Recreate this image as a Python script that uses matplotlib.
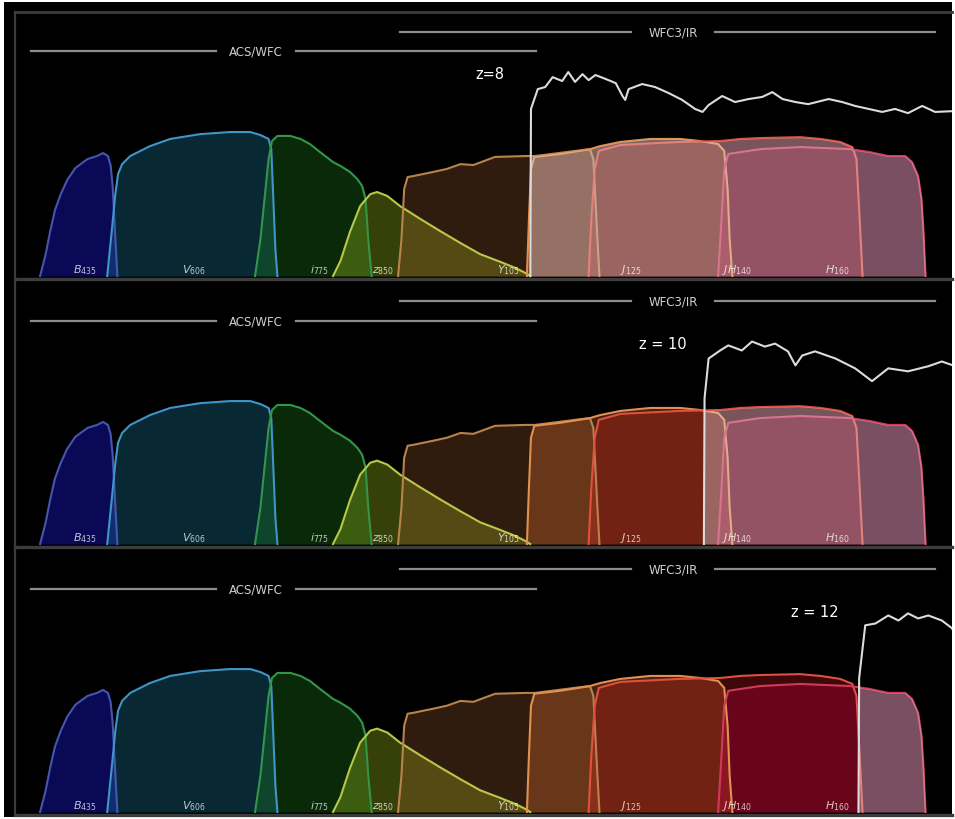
import numpy as np
import matplotlib.pyplot as plt
from matplotlib.patches import Rectangle

# filter curves: wavelength [micron] and throughput
b435_lam = [0.370, 0.378, 0.385, 0.392, 0.400, 0.410, 0.422, 0.440, 0.454, 0.463, 0.470, 0.474, 0.477, 0.480, 0.484]
b435_thr = [0.0, 0.07, 0.15, 0.22, 0.27, 0.32, 0.36, 0.39, 0.40, 0.41, 0.40, 0.37, 0.30, 0.17, 0.0]

v606_lam = [0.469, 0.476, 0.481, 0.485, 0.491, 0.503, 0.518, 0.532, 0.562, 0.606, 0.650, 0.680, 0.695, 0.707, 0.711, 0.714, 0.717, 0.720]
v606_thr = [0.0, 0.157, 0.273, 0.34, 0.373, 0.40, 0.417, 0.433, 0.457, 0.473, 0.48, 0.48, 0.47, 0.457, 0.423, 0.257, 0.09, 0.0]

i775_lam = [0.687, 0.695, 0.701, 0.707, 0.712, 0.720, 0.739, 0.754, 0.768, 0.783, 0.802, 0.813, 0.827, 0.838, 0.845, 0.850, 0.854, 0.859]
i775_thr = [0.0, 0.123, 0.257, 0.39, 0.45, 0.467, 0.467, 0.457, 0.44, 0.413, 0.38, 0.367, 0.347, 0.323, 0.30, 0.257, 0.123, 0.0]

z850_lam = [0.802, 0.813, 0.827, 0.842, 0.857, 0.867, 0.882, 0.901, 0.931, 0.960, 0.990, 1.019, 1.049, 1.071, 1.086, 1.093]
z850_thr = [0.0, 0.05, 0.147, 0.233, 0.273, 0.28, 0.267, 0.233, 0.19, 0.15, 0.11, 0.073, 0.047, 0.027, 0.01, 0.0]

y105_lam = [0.898, 0.903, 0.907, 0.912, 0.920, 0.950, 0.970, 0.990, 1.009, 1.041, 1.086, 1.100, 1.159, 1.181, 1.186, 1.189, 1.192, 1.195]
y105_thr = [0.0, 0.123, 0.29, 0.33, 0.333, 0.347, 0.357, 0.373, 0.37, 0.397, 0.40, 0.40, 0.417, 0.423, 0.39, 0.257, 0.123, 0.0]

j125_lam = [1.088, 1.091, 1.094, 1.099, 1.137, 1.181, 1.196, 1.226, 1.270, 1.314, 1.344, 1.370, 1.379, 1.384, 1.387, 1.391]
j125_thr = [0.0, 0.19, 0.357, 0.397, 0.407, 0.423, 0.433, 0.447, 0.457, 0.457, 0.45, 0.44, 0.417, 0.29, 0.123, 0.0]

jh140_lam = [1.179, 1.183, 1.188, 1.194, 1.226, 1.314, 1.373, 1.403, 1.432, 1.491, 1.521, 1.550, 1.568, 1.574, 1.578, 1.583]
jh140_thr = [0.0, 0.19, 0.357, 0.417, 0.437, 0.447, 0.45, 0.457, 0.46, 0.463, 0.457, 0.447, 0.43, 0.39, 0.223, 0.0]

h160_lam = [1.370, 1.375, 1.379, 1.385, 1.432, 1.491, 1.565, 1.594, 1.621, 1.646, 1.656, 1.665, 1.670, 1.673, 1.676]
h160_thr = [0.0, 0.19, 0.357, 0.407, 0.423, 0.43, 0.423, 0.413, 0.40, 0.40, 0.38, 0.333, 0.257, 0.147, 0.0]

# galaxy spectra at the three redshifts (same throughput scale)
spec_z8_lam = [1.093, 1.094, 1.104, 1.115, 1.126, 1.140, 1.149, 1.159, 1.170, 1.179, 1.189, 1.204, 1.219, 1.229, 1.233,
               1.238, 1.258, 1.277, 1.297, 1.317, 1.336, 1.347, 1.356, 1.376, 1.395, 1.415, 1.435, 1.450, 1.465, 1.484,
               1.503, 1.533, 1.553, 1.572, 1.592, 1.612, 1.631, 1.650, 1.671, 1.690, 1.720]
spec_z8_flux = [0.0, 0.557, 0.623, 0.63, 0.663, 0.65, 0.68, 0.647, 0.673, 0.653, 0.67, 0.657, 0.643, 0.60, 0.587,
                0.623, 0.64, 0.63, 0.61, 0.587, 0.557, 0.547, 0.57, 0.60, 0.58, 0.59, 0.597, 0.613, 0.59, 0.58,
                0.573, 0.59, 0.58, 0.567, 0.557, 0.547, 0.557, 0.543, 0.567, 0.547, 0.55]

spec_z10_lam = [1.349, 1.350, 1.356, 1.373, 1.385, 1.405, 1.420, 1.439, 1.454, 1.473, 1.484, 1.494, 1.513, 1.543,
                1.572, 1.597, 1.621, 1.650, 1.680, 1.700, 1.720]
spec_z10_flux = [0.0, 0.49, 0.623, 0.65, 0.667, 0.65, 0.68, 0.663, 0.673, 0.647, 0.60, 0.633, 0.647, 0.623,
                 0.59, 0.547, 0.59, 0.58, 0.597, 0.613, 0.597]

spec_z12_lam = [1.577, 1.578, 1.587, 1.602, 1.621, 1.636, 1.650, 1.665, 1.680, 1.700, 1.715, 1.720]
spec_z12_flux = [0.0, 0.45, 0.627, 0.633, 0.66, 0.643, 0.667, 0.65, 0.66, 0.643, 0.617, 0.593]

redshift_labels = ['z=8', 'z = 10', 'z = 12']
redshift_label_x = [1.034, 1.288, 1.513]

# name, curve, fill colour, edge colour, fill alpha, label x
acs_filters = [
    (r'$B_{435}$', b435_lam, b435_thr, '#1818e0', '#4656b0', 0.38, 0.419),
    (r'$V_{606}$', v606_lam, v606_thr, '#1a7fa0', '#3f95c8', 0.32, 0.580),
    (r'$i_{775}$', i775_lam, i775_thr, '#1f8a1f', '#33954a', 0.30, 0.768),
    (r'$z_{850}$', z850_lam, z850_thr, '#9cbc1c', '#b8c848', 0.35, 0.860),
]
wfc3_filters = [
    (r'$Y_{105}$', y105_lam, y105_thr, '#a06030', '#b8844c', 0.30, 1.044),
    (r'$J_{125}$', j125_lam, j125_thr, '#e07030', '#e09050', 0.32, 1.226),
    (r'$JH_{140}$', jh140_lam, jh140_thr, '#e02020', '#e05040', 0.28, 1.376),
    (r'$H_{160}$', h160_lam, h160_thr, '#c00040', '#d03a5a', 0.33, 1.528),
]

spectra = [(spec_z8_lam, spec_z8_flux), (spec_z10_lam, spec_z10_flux), (spec_z12_lam, spec_z12_flux)]

fig = plt.figure(figsize=(9.55, 8.2), dpi=100)
fig.patch.set_facecolor('white')
fig.patches.append(Rectangle((0.004, 0.003), 0.993, 0.993, transform=fig.transFigure,
                             facecolor='black', edgecolor='none', zorder=-10))

panel_pos = [[0.0157, 0.6585, 0.9812, 0.3256],
             [0.0157, 0.3317, 0.9812, 0.3232],
             [0.0157, 0.0049, 0.9812, 0.3232]]

grid_col = '#3c3c3c'

for k, pos in enumerate(panel_pos):
    ax = fig.add_axes(pos)
    ax.set_facecolor('black')
    ax.set_xlim(0.333, 1.715)
    ax.set_ylim(-0.01, 0.88)
    ax.set_xticks([])
    ax.set_yticks([])
    for side in ['top', 'right']:
        ax.spines[side].set_visible(False)
    if k == 0:
        ax.spines['top'].set_visible(True)
        ax.spines['top'].set_color(grid_col)
        ax.spines['top'].set_linewidth(2)
    ax.spines['left'].set_color(grid_col)
    ax.spines['left'].set_linewidth(1.6)
    ax.spines['bottom'].set_color(grid_col)
    ax.spines['bottom'].set_linewidth(2.4)

    for name, lam, thr, fc, ec, a, lx in acs_filters + wfc3_filters:
        ax.fill_between(lam, 0, thr, color=fc, alpha=a, linewidth=0, zorder=2)
    for name, lam, thr, fc, ec, a, lx in acs_filters + wfc3_filters:
        ax.plot(lam, thr, color=ec, lw=1.5, zorder=3)
        ax.text(lx, 0.012, name, color='white', alpha=0.75, fontsize=8, zorder=6)

    # light up the WFC3 bands that receive flux redward of the break
    s_lam, s_flux = spectra[k]
    grid = np.linspace(s_lam[0], 1.72, 800)
    env = np.zeros_like(grid)
    for name, lam, thr, fc, ec, a, lx in wfc3_filters:
        env = np.maximum(env, np.interp(grid, lam, thr, left=0, right=0))
    ax.fill_between(grid, 0, env, color='#e4dcec', alpha=0.36, linewidth=0, zorder=4)

    ax.plot(s_lam, s_flux, color='#dcdcdc', lw=1.5, zorder=5)
    ax.text(redshift_label_x[k], 0.675, redshift_labels[k], color='white', fontsize=10.5,
            ha='center', va='center', zorder=6)

    # instrument ranges
    ax.plot([0.356, 0.629], [0.75, 0.75], color='#8c8c8c', lw=1.6)
    ax.plot([0.747, 1.101], [0.75, 0.75], color='#8c8c8c', lw=1.6)
    ax.text(0.688, 0.75, 'ACS/WFC', color='#d0d0d0', fontsize=8.5, ha='center', va='center')
    ax.plot([0.901, 1.241], [0.815, 0.815], color='#8c8c8c', lw=1.6)
    ax.plot([1.366, 1.690], [0.815, 0.815], color='#8c8c8c', lw=1.6)
    ax.text(1.304, 0.815, 'WFC3/IR', color='#d0d0d0', fontsize=8.5, ha='center', va='center')

plt.savefig('out.png', dpi=100, facecolor=fig.get_facecolor())
